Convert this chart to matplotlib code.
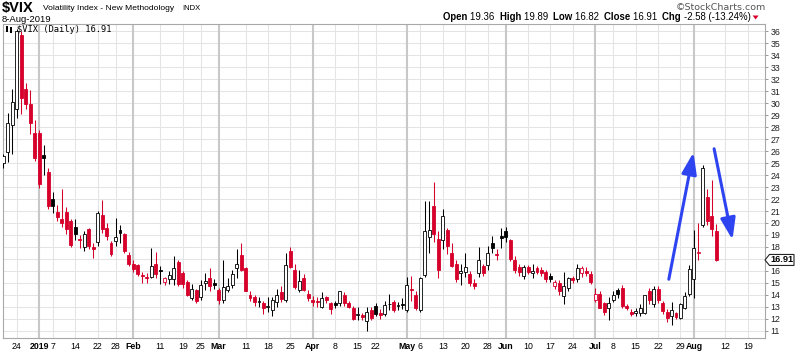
import numpy as np
import pandas as pd
import matplotlib
matplotlib.use('Agg')
import matplotlib.pyplot as plt
from matplotlib.patches import Rectangle, Polygon
from matplotlib.transforms import IdentityTransform

plt.rcParams['font.family'] = ['Liberation Sans', 'DejaVu Sans']

# ---------------- data ----------------
holidays = ['2018-12-25', '2019-01-01', '2019-01-21', '2019-02-18',
            '2019-04-19', '2019-05-27', '2019-07-04']

opens = [25.0, 25.9, 28.2, 29.5, 35.7, 31.2, 29.9, 27.5,
         27.5, 25.7, 24.3, 22.0, 20.9, 20.3, 20.9, 20.2, 19.7, 18.7, 18.0, 19.5, 18.0, 18.4, 20.7, 19.6, 18.3, 18.5, 19.4, 19.1, 17.3,
         16.6, 16.5, 15.6, 15.45, 15.5, 16.6, 16.1, 15.1, 15.3, 15.3, 16.7, 15.8, 15.1, 13.7, 14.4, 13.8, 15.0, 15.4, 15.0,
         14.4, 13.6, 14.4, 14.8, 16.2, 17.3, 16.2, 14.0, 13.8, 13.4, 13.3, 13.0, 12.7, 13.4, 14.2, 13.6, 17.7, 16.1, 14.4, 15.4, 14.1,
         13.6, 13.5, 13.0, 13.8, 13.3, 13.3, 13.3, 14.0, 13.3, 12.9, 12.3, 12.3, 11.8, 12.7, 13.1, 12.5, 12.4, 13.2, 13.4, 13.1, 13.2,
         12.7, 14.5, 14.0, 12.7, 15.65, 18.8, 21.4, 18.7, 18.6, 19.4, 17.5, 16.6, 15.8, 15.9, 15.7, 15.0, 15.8, 16.4, 16.5, 18.35, 17.4, 18.95,
         19.3, 18.6, 16.9, 16.35, 15.6, 16.3, 15.85, 16.2, 16.1, 15.9, 15.6, 14.7, 15.0, 13.9, 14.55, 15.4, 15.3, 15.8, 16.0, 15.7,
         13.55, 14.1, 13.3, 12.9, 13.6, 14.4, 14.55, 13.1, 12.6, 12.5, 12.5, 12.5, 14.35, 13.2, 14.5, 13.35, 12.6, 12.2, 12.5, 12.1, 12.9, 14.1,
         15.3, 17.5, 19.85, 22.2, 20.6, 19.36]

highs = [25.8, 29.2, 31.2, 36.2, 36.0, 31.7, 31.1, 28.6,
         27.8, 26.5, 24.6, 22.6, 21.5, 22.8, 21.3, 20.3, 20.3, 19.0, 19.3, 19.6, 18.3, 21.0, 21.9, 20.0, 18.5, 20.4, 19.8, 19.2, 17.6,
         16.9, 16.6, 15.9, 15.8, 17.9, 17.6, 16.4, 15.5, 16.0, 17.2, 16.9, 16.0, 15.2, 14.9, 14.5, 15.2, 15.8, 16.2, 15.3,
         14.6, 16.9, 15.4, 16.1, 17.8, 18.3, 16.3, 14.3, 14.0, 13.8, 13.5, 13.8, 13.8, 14.5, 14.7, 17.5, 18.0, 16.6, 16.1, 15.7, 14.4,
         13.9, 13.8, 14.2, 13.9, 13.4, 13.5, 14.3, 14.2, 13.5, 13.1, 13.0, 12.5, 13.0, 13.0, 13.3, 12.8, 13.5, 14.1, 13.6, 13.4, 13.7,
         15.5, 15.6, 14.3, 15.5, 21.8, 21.8, 23.4, 19.3, 21.2, 19.6, 18.3, 16.9, 16.6, 17.5, 16.0, 15.3, 18.0, 16.6, 18.1, 18.9, 17.8, 19.6,
         19.7, 18.7, 17.2, 16.6, 16.5, 16.5, 16.6, 16.4, 16.3, 16.1, 15.8, 15.2, 15.2, 15.9, 15.5, 15.6, 16.6, 16.4, 16.3, 16.0,
         14.6, 14.3, 13.4, 13.85, 14.3, 14.6, 14.8, 13.2, 12.8, 12.9, 13.2, 14.0, 14.6, 14.7, 14.7, 13.5, 12.8, 13.4, 12.6, 13.3, 14.2, 16.5,
         19.4, 20.0, 24.85, 22.8, 23.6, 19.89]

lows = [24.6, 25.1, 25.8, 28.8, 29.1, 29.5, 27.4, 25.2,
        22.9, 24.0, 21.2, 20.8, 20.2, 19.7, 19.1, 18.0, 18.6, 17.9, 17.7, 17.8, 17.1, 18.1, 19.2, 18.6, 17.2, 18.1, 18.3, 17.5, 16.4,
        15.9, 15.6, 15.0, 15.0, 15.4, 15.4, 14.9, 14.8, 14.9, 14.8, 14.7, 14.6, 13.9, 13.6, 13.3, 13.6, 14.4, 14.3, 14.5,
        13.2, 13.3, 14.2, 14.6, 15.4, 16.0, 14.3, 13.5, 13.1, 13.0, 12.4, 12.6, 12.2, 13.0, 13.4, 13.4, 16.2, 14.5, 14.2, 14.3, 13.5,
        13.1, 13.0, 12.9, 13.3, 12.4, 12.9, 13.1, 13.1, 12.9, 11.9, 11.9, 11.9, 11.0, 11.9, 12.2, 12.0, 12.2, 12.7, 12.6, 12.7, 12.8,
        12.6, 13.5, 12.7, 12.6, 15.5, 17.5, 18.4, 15.4, 17.8, 17.4, 16.3, 15.1, 14.8, 15.5, 14.7, 14.5, 15.5, 15.6, 16.1, 17.5, 16.9, 17.9,
        18.4, 16.8, 15.8, 15.6, 15.3, 15.7, 15.4, 15.7, 15.6, 15.1, 15.1, 14.5, 14.0, 13.2, 14.3, 15.0, 15.1, 15.5, 15.6, 14.9,
        13.4, 12.9, 12.35, 11.9, 13.4, 13.7, 12.9, 12.7, 12.2, 12.2, 12.2, 12.4, 13.2, 13.0, 13.3, 12.4, 11.7, 11.5, 12.0, 12.0, 12.8, 13.9,
        13.7, 16.9, 19.7, 19.8, 18.9, 16.82]

closes = [25.58, 28.38, 30.11, 36.07, 30.41, 29.96, 28.34, 25.42,
          23.22, 25.45, 21.38, 21.40, 20.47, 19.98, 19.50, 18.19, 19.07, 18.60, 19.04, 18.06, 17.80, 20.80, 19.52, 18.89, 17.42, 18.87, 19.13, 17.66, 16.57,
          16.14, 15.73, 15.57, 15.38, 16.37, 15.72, 15.97, 15.43, 15.65, 16.22, 14.91, 14.88, 14.02, 14.46, 13.51, 14.85, 15.17, 14.70, 14.78,
          13.57, 14.63, 14.74, 15.74, 16.59, 16.05, 14.33, 13.77, 13.41, 13.50, 12.88, 13.10, 13.56, 14.01, 13.63, 16.48, 16.33, 14.68, 15.15, 14.43, 13.71,
          13.40, 13.36, 13.74, 13.58, 12.82, 13.18, 14.28, 13.30, 13.02, 12.01, 12.32, 12.18, 12.60, 12.09, 12.42, 12.28, 13.14, 13.25, 12.73, 13.11, 13.12,
          14.80, 14.42, 12.87, 15.44, 19.32, 19.40, 19.10, 16.04, 20.55, 18.06, 16.44, 15.29, 15.96, 16.31, 14.95, 14.75, 16.92, 15.85, 17.50, 17.90, 17.30, 18.71,
          18.86, 16.97, 16.09, 15.93, 16.30, 15.94, 15.99, 15.91, 15.82, 15.28, 15.35, 15.05, 14.33, 14.75, 15.40, 15.26, 16.28, 16.21, 15.82, 15.08,
          14.06, 12.93, 12.57, 13.28, 13.96, 14.09, 13.03, 12.93, 12.39, 12.68, 12.86, 13.97, 13.53, 14.45, 13.53, 12.61, 12.07, 12.74, 12.16, 13.24, 13.94, 16.12,
          17.87, 17.61, 24.59, 20.17, 19.49, 16.91]

tick_dates = ['2018-12-24', '2019-01-02', '2019-01-07', '2019-01-14', '2019-01-22', '2019-01-28',
              '2019-02-01', '2019-02-11', '2019-02-19', '2019-02-25', '2019-03-01', '2019-03-11',
              '2019-03-18', '2019-03-25', '2019-04-01', '2019-04-08', '2019-04-15', '2019-04-22',
              '2019-05-01', '2019-05-06', '2019-05-13', '2019-05-20', '2019-05-28', '2019-06-03',
              '2019-06-10', '2019-06-17', '2019-06-24', '2019-07-01', '2019-07-08', '2019-07-15',
              '2019-07-22', '2019-07-29', '2019-08-01', '2019-08-12', '2019-08-19']
tick_labels = ['24', '2019', '7', '14', '22', '28', 'Feb', '11', '19', '25', 'Mar', '11', '18', '25',
               'Apr', '8', '15', '22', 'May', '6', '13', '20', '28', 'Jun', '10', '17', '24', 'Jul',
               '8', '15', '22', '29', 'Aug', '12', '19']
major_labels = ['2019', 'Feb', 'Mar', 'Apr', 'May', 'Jun', 'Jul', 'Aug']
y_ticks = list(range(11, 37))

# ---------------- figure ----------------
W, H = 800, 353
fig = plt.figure(figsize=(8.0, 3.53), dpi=100)
ax = fig.add_axes([3 / W, 1 - 338 / H, 762 / W, (338 - 24.3) / H])

days = pd.bdate_range('2018-12-19', '2019-08-23')
days = days[~days.isin(pd.to_datetime(holidays))]
pos = {d: i for i, d in enumerate(days)}

RED = '#d6002b'
BLK = '#000000'
bw = 0.66
n = len(closes)
for i in range(n):
    o, h, l, c = opens[i], highs[i], lows[i], closes[i]
    prev = closes[i - 1] if i > 0 else o
    col = BLK if c >= prev else RED
    hollow = c > o
    ax.plot([i, i], [l, h], color=col, lw=0.75, solid_capstyle='butt', zorder=3)
    lo, hi = min(o, c), max(o, c)
    ht = max(hi - lo, 0.06)
    ax.add_patch(Rectangle((i - bw / 2, lo), bw, ht,
                           facecolor='white' if hollow else col,
                           edgecolor=col, lw=0.6, zorder=4))

ax.set_xlim(-0.09, 169.85)
ax.set_ylim(10.39, 36.6)

# grid
for yv in y_ticks:
    ax.axhline(yv, color='#e4e4e4', lw=0.75, zorder=0)
xt = [pos[pd.Timestamp(d)] for d in tick_dates]
for x, lab in zip(xt, tick_labels):
    if lab in major_labels:
        ax.axvline(x, color='#c8c8c8', lw=1.5, zorder=0)
    else:
        ax.axvline(x, color='#e4e4e4', lw=0.75, zorder=0)

ax.set_xticks(xt)
ax.set_xticklabels(tick_labels, fontsize=6.3)
for t in ax.get_xticklabels():
    if t.get_text() in major_labels:
        t.set_fontweight('bold')
ax.tick_params(axis='x', length=0, pad=3)

ax.yaxis.tick_right()
ax.set_yticks(y_ticks)
ax.set_yticklabels([('' if v == 17 else str(v)) for v in y_ticks], fontsize=6.3, color='#222222')
ax.tick_params(axis='y', length=2.5, width=0.6, color='#888888', pad=1.5)
for s in ax.spines.values():
    s.set_color('#a8a8a8')
    s.set_linewidth(0.8)

# arrows (annotation positions in data coords)
arrow1 = ((148.4, 15.3), (153.9, 25.9))
arrow2 = ((158.5, 26.2), (162.6, 18.6))
for (p0, p1) in (arrow1, arrow2):
    ax.annotate('', xy=p1, xytext=p0,
                arrowprops=dict(arrowstyle='-|>,head_length=1.3,head_width=0.45',
                                color='#2e44f0', lw=2.2, shrinkA=0, shrinkB=0,
                                mutation_scale=10), zorder=6)

# last price box
fig.canvas.draw()
last = closes[-1]
ypix = ax.transData.transform((0, last))[1]
x0 = ax.transAxes.transform((1, 0))[0]
bh = 5.5
poly = Polygon([(x0, ypix), (x0 + 4.5, ypix + bh), (x0 + 29, ypix + bh),
                (x0 + 29, ypix - bh), (x0 + 4.5, ypix - bh)], closed=True,
               facecolor='white', edgecolor='#222222', lw=0.8, transform=IdentityTransform())
fig.add_artist(poly)
fig.text((x0 + 17) / W, ypix / H, f'{last:.2f}', fontsize=6.6, fontweight='bold',
         ha='center', va='center')

# header texts
fig.text(2 / W, 1 - 8 / H, '$VIX', fontsize=10.5, fontweight='bold', va='center', ha='left')
fig.text(43 / W, 1 - 9 / H, 'Volatility Index - New Methodology', fontsize=6.1, va='center', ha='left')
fig.text(182 / W, 1 - 9 / H, 'INDX', fontsize=5.5, va='center', ha='left')
fig.text(2 / W, 1 - 19 / H, '8-Aug-2019', fontsize=6.8, va='center', ha='left')
fig.text(766 / W, 1 - 7 / H, '\u00a9StockCharts.com', fontsize=6.8, color='#555555',
         family='DejaVu Sans', va='center', ha='right')

last_open, last_high, last_low = opens[-1], highs[-1], lows[-1]
chg = closes[-1] - closes[-2]
pct = chg / closes[-2] * 100
pieces = [('Open ', 'bold'), (f'{last_open:.2f}  ', 'normal'), ('High ', 'bold'),
          (f'{last_high:.2f}  ', 'normal'), ('Low ', 'bold'), (f'{last_low:.2f}  ', 'normal'),
          ('Close ', 'bold'), (f'{last:.2f}  ', 'normal'), ('Chg ', 'bold'),
          (f'{chg:.2f} ({pct:.2f}%)', 'normal')]
renderer = fig.canvas.get_renderer()
xc = 443.0
for txt, wt in pieces:
    t = fig.text(xc / W, 1 - 17 / H, txt, fontsize=6.95, fontweight=wt, va='center', ha='left')
    bb = t.get_window_extent(renderer=renderer)
    xc += bb.width
fig.add_artist(Polygon([(xc + 2, H - 15.5), (xc + 8, H - 15.5), (xc + 5, H - 19.5)], closed=True,
                       facecolor=RED, edgecolor='none', transform=IdentityTransform()))

# inside label
fig.add_artist(Rectangle((6, H - 32), 2, 6, facecolor='black', transform=IdentityTransform()))
fig.add_artist(Rectangle((9.5, H - 33), 2, 6, facecolor='black', transform=IdentityTransform()))
fig.text(17 / W, 1 - 29.5 / H, f'$VIX (Daily) {last:.2f}', fontsize=6.3,
         family='DejaVu Sans Mono', va='center', ha='left')

fig.savefig('out.png', dpi=100, facecolor='white')
